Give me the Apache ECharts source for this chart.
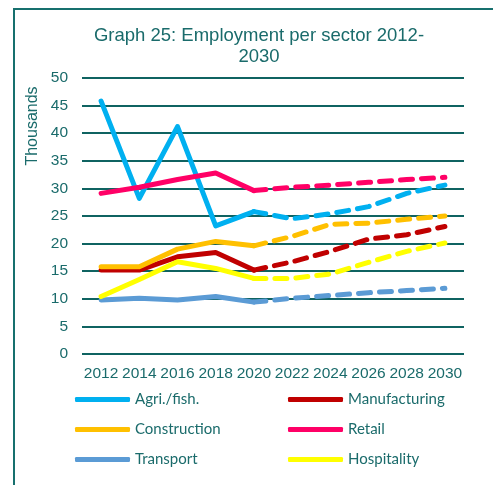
<!DOCTYPE html>
<html>
<head>
<meta charset="utf-8">
<script src="https://cdn.jsdelivr.net/npm/echarts@6/dist/echarts.min.js"></script>
<style>html,body{margin:0;padding:0;background:#fff;}#c{width:493px;height:485px;}</style>
</head>
<body>
<div id="c"></div>
<script>
var years = ['2012','2014','2016','2018','2020','2022','2024','2026','2028','2030'];
var agri          = [45.8, 28.2, 41.2, 23.2, 25.8, 24.5, 25.4, 26.7, 29.1, 30.6];
var manufacturing = [15.2, 15.2, 17.6, 18.4, 15.2, 16.7, 18.6, 20.8, 21.6, 23.1];
var construction  = [15.8, 15.8, 19.0, 20.4, 19.6, 21.3, 23.5, 23.7, 24.4, 25.0];
var retail        = [29.1, 30.2, 31.6, 32.8, 29.6, 30.2, 30.6, 31.1, 31.6, 32.0];
var transport     = [9.8, 10.1, 9.8, 10.4, 9.4, 10.1, 10.6, 11.1, 11.5, 11.9];
var hospitality   = [10.4, 13.5, 16.7, 15.5, 13.7, 13.7, 14.5, 16.6, 18.6, 20.1];
var yTicks = [0, 5, 10, 15, 20, 25, 30, 35, 40, 45, 50];
var splitIndex = 4; // 2020: solid up to here, dashed after

var sectors = [
  {name: 'Agri./fish.', data: agri, color: '#00B0F0'},
  {name: 'Manufacturing', data: manufacturing, color: '#C00000'},
  {name: 'Construction', data: construction, color: '#FFC000'},
  {name: 'Retail', data: retail, color: '#FF0066'},
  {name: 'Transport', data: transport, color: '#5B9BD5'},
  {name: 'Hospitality', data: hospitality, color: '#FFFF00'}
];

var teal = '#1A6B6B';
var series = [];
sectors.forEach(function (s) {
  var solid = s.data.map(function (v, i) { return i <= splitIndex ? v : null; });
  var dashed = s.data.map(function (v, i) { return i >= splitIndex ? v : null; });
  series.push({
    name: s.name, type: 'line', data: solid, symbol: 'none', smooth: false,
    itemStyle: {color: s.color},
    lineStyle: {color: s.color, width: 5, cap: 'round', join: 'round'}
  });
  series.push({
    name: s.name, type: 'line', data: dashed, symbol: 'none', smooth: false,
    itemStyle: {color: s.color},
    lineStyle: {color: s.color, width: 5, type: [12, 9], cap: 'round', join: 'round'}
  });
});

var chart = echarts.init(document.getElementById('c'), null, {renderer: 'canvas'});
var legendCommon = {
  orient: 'vertical', icon: 'roundRect', itemWidth: 55, itemHeight: 5, itemGap: 15,
  textStyle: {color: teal, fontFamily: 'Lato', fontSize: 15, lineHeight: 14}
};
chart.setOption({
  animation: false,
  backgroundColor: '#fff',
  title: {
    text: 'Graph 25: Employment per sector 2012-\n2030',
    left: 254, textAlign: 'center', top: 20,
    textStyle: {color: teal, fontFamily: 'Liberation Sans', fontSize: 18.5, fontWeight: 'normal', lineHeight: 21}
  },
  graphic: [
    {type: 'rect', shape: {x: 14, y: 9, width: 490, height: 490}, style: {fill: 'none', stroke: '#17706E', lineWidth: 2}, silent: true},
    {type: 'text', x: 33, y: 126, rotation: Math.PI / 2,
     style: {text: 'Thousands', fill: teal, font: '16px "Liberation Sans"', textAlign: 'center', textVerticalAlign: 'middle'}}
  ],
  legend: [
    Object.assign({left: 70, top: 387, data: ['Agri./fish.', 'Construction', 'Transport']}, legendCommon),
    Object.assign({left: 283, top: 387, data: ['Manufacturing', 'Retail', 'Hospitality']}, legendCommon)
  ],
  grid: {left: 82, right: 29, top: 78, bottom: 131, containLabel: false},
  xAxis: {
    type: 'category', data: years, boundaryGap: true,
    axisLine: {show: false}, axisTick: {show: false},
    axisLabel: {color: teal, fontFamily: 'Liberation Sans', fontSize: 15.5, margin: 12, interval: 0}
  },
  yAxis: {
    type: 'value', min: yTicks[0], max: yTicks[yTicks.length - 1], interval: 5,
    axisLine: {show: false}, axisTick: {show: false},
    axisLabel: {color: teal, fontFamily: 'Liberation Sans', fontSize: 15.5, margin: 14},
    splitLine: {lineStyle: {color: '#0F6361', width: 2}}
  },
  series: series
});
</script>
</body>
</html>
